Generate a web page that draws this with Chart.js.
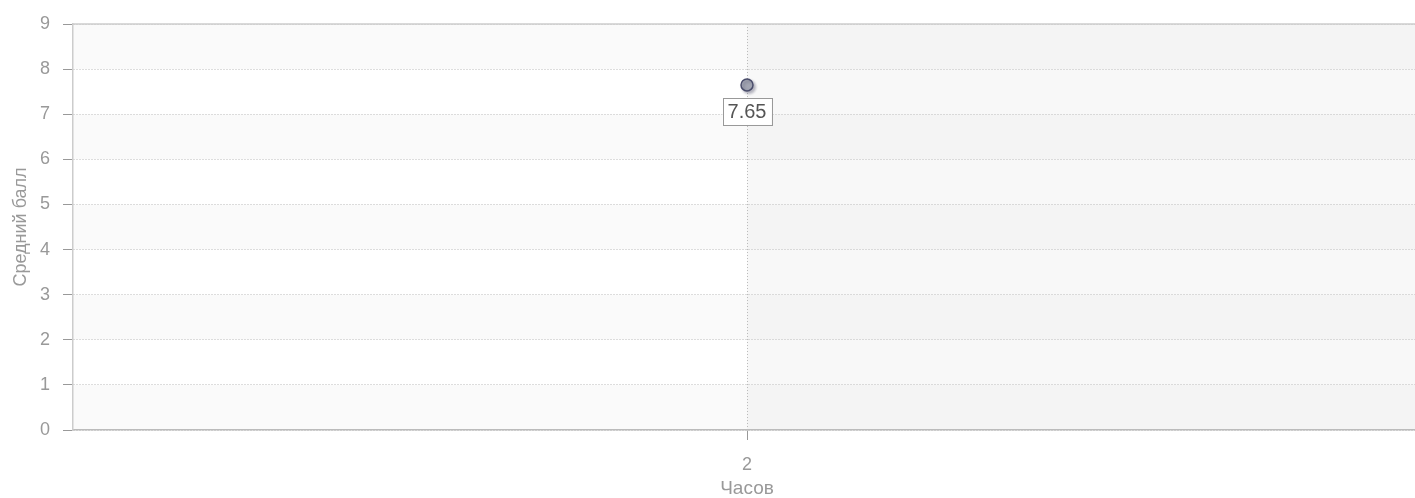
<!DOCTYPE html>
<html>
<head>
<meta charset="utf-8">
<script src="https://cdn.jsdelivr.net/npm/chart.js@4"></script>
<style>
  html, body { margin: 0; padding: 0; background: #fff; overflow: hidden; }
  #wrap { width: 1421px; height: 498px; }
</style>
</head>
<body>
<div id="wrap"><canvas id="myChart"></canvas></div>
<script>
'use strict';

/** @desc Categories of the x axis (hours) */
const HOURS = ['2'];

/** @desc Average score for each category */
const AVERAGE_SCORE = [7.65];

/** @desc Limits of the y axis */
const Y_MIN = 0;
const Y_MAX = 9;

const FONT = "'Liberation Sans', Arial, sans-serif";
const GRAY = '#999';

/** @desc Draws the alternating bands behind the plot, like the original */
const BANDS = {
  id: 'bands',
  beforeDraw(chart) {
    const {ctx, chartArea: area, scales: {x, y}} = chart;
    ctx.save();
    for (let v = Y_MIN; v < Y_MAX; v++) {
      if ((v + 1) % 2 === 1) {
        ctx.fillStyle = 'rgba(0,0,0,0.018)';
        const top = y.getPixelForValue(v + 1);
        ctx.fillRect(area.left, top, area.right - area.left, y.getPixelForValue(v) - top);
      }
    }
    const mid = x.getPixelForValue(0);
    ctx.fillStyle = 'rgba(0,0,0,0.028)';
    ctx.fillRect(mid, area.top, area.right - mid, area.bottom - area.top);
    ctx.restore();
  },
  afterDraw(chart) {
    const {ctx, chartArea: area} = chart;
    ctx.save();
    ctx.strokeStyle = '#ccc';
    ctx.lineWidth = 1.5;
    ctx.beginPath();
    ctx.moveTo(area.left, area.top);
    ctx.lineTo(area.right, area.top);
    ctx.stroke();
    ctx.restore();
  }
};

/** @desc Shadow under the points and boxed value labels */
const POINT_LABELS = {
  id: 'pointLabels',
  beforeDatasetsDraw(chart) {
    const ctx = chart.ctx;
    ctx.save();
    ctx.shadowColor = 'rgba(60,60,90,0.35)';
    ctx.shadowBlur = 3;
    ctx.shadowOffsetX = 2;
    ctx.shadowOffsetY = 2;
  },
  afterDatasetsDraw(chart) {
    const ctx = chart.ctx;
    ctx.restore();
    const meta = chart.getDatasetMeta(0);
    ctx.save();
    ctx.font = '20px ' + FONT;
    ctx.textAlign = 'center';
    ctx.textBaseline = 'middle';
    meta.data.forEach((pt, i) => {
      const text = AVERAGE_SCORE[i].toFixed(2);
      const w = ctx.measureText(text).width + 10;
      const h = 27;
      const top = pt.y + 13;
      ctx.fillStyle = '#fff';
      ctx.fillRect(pt.x - w / 2, top, w, h);
      ctx.strokeStyle = '#999';
      ctx.lineWidth = 1;
      ctx.strokeRect(Math.round(pt.x - w / 2) + 0.5, Math.round(top) + 0.5, Math.round(w), h);
      ctx.fillStyle = '#555';
      ctx.fillText(text, pt.x, top + h / 2 + 1);
    });
    ctx.restore();
  }
};

const DATA = {
  labels: HOURS,
  datasets: [{
    data: AVERAGE_SCORE,
    showLine: false,
    pointRadius: 6,
    pointHoverRadius: 6,
    pointBackgroundColor: '#a2a5b2',
    pointBorderColor: '#4a4d6b',
    pointBorderWidth: 1.5
  }]
};

const SCALES = {
  x: {
    type: 'category',
    offset: true,
    afterFit(scale) { scale.height = 68; },
    grid: {
      offset: false,
      color: '#bbb',
      tickColor: GRAY,
      tickLength: 10,
      tickBorderDash: []
    },
    border: { color: '#bbb', width: 1.5, dash: [1, 2] },
    ticks: { color: GRAY, font: { family: FONT, size: 18 }, padding: 14 },
    title: {
      display: true,
      text: 'Часов',
      color: GRAY,
      font: { family: FONT, size: 19, lineHeight: 1 },
      padding: { top: 0, bottom: 0 }
    }
  },
  y: {
    min: Y_MIN,
    max: Y_MAX,
    afterFit(scale) { scale.width = 73; },
    grid: {
      color: '#bbb',
      tickColor: GRAY,
      tickLength: 10,
      tickBorderDash: []
    },
    border: { color: '#ccc', width: 1.5, dash: [1, 2] },
    ticks: { stepSize: 1, color: GRAY, font: { family: FONT, size: 18 }, padding: 13 },
    title: {
      display: true,
      text: 'Средний балл',
      color: GRAY,
      font: { family: FONT, size: 18 },
      padding: { top: 10, bottom: 0 }
    }
  }
};

const CONFIG = {
  type: 'line',
  data: DATA,
  options: {
    responsive: true,
    maintainAspectRatio: false,
    animation: false,
    layout: { autoPadding: false, padding: { top: 24, right: 0, left: 0, bottom: 0 } },
    plugins: { legend: { display: false }, tooltip: { enabled: false } },
    scales: SCALES
  },
  plugins: [BANDS, POINT_LABELS]
};

const CTX = document.getElementById('myChart').getContext('2d');
let myChart = new Chart(CTX, CONFIG);
</script>
</body>
</html>
